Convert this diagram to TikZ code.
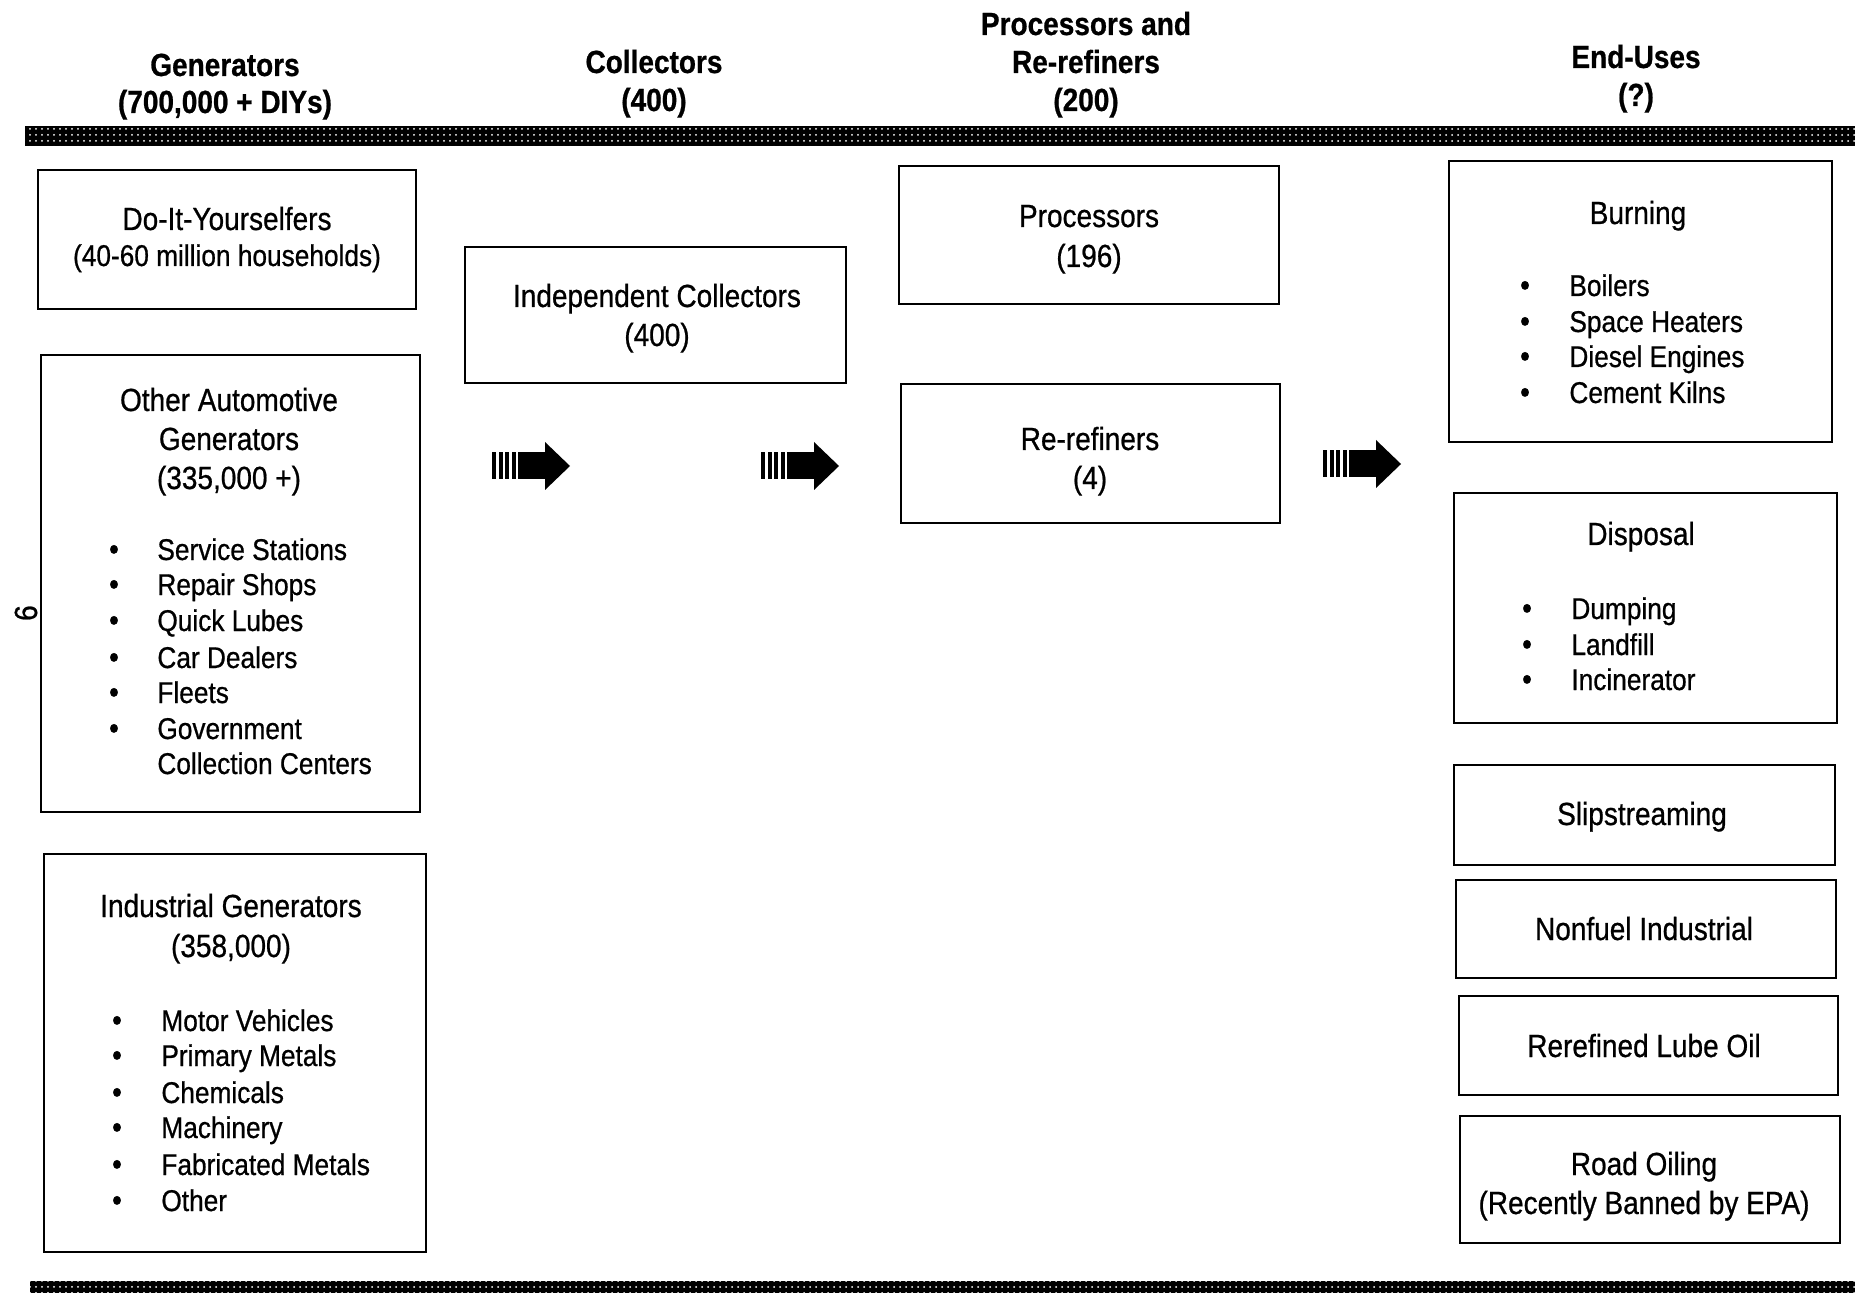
\documentclass[tikz,border=0pt]{standalone}
\usepackage{fontspec}
\setmainfont[FakeStretch=0.875, FakeBold=0.7]{Liberation Sans}
\usetikzlibrary{patterns}

\tikzset{
  box/.style={draw, line width=1.4pt, inner sep=0pt},
  hdr/.style={font=\fontsize{16}{19}\selectfont\bfseries, anchor=base, inner sep=0pt},
  txt/.style={font=\fontsize{16}{19}\selectfont, anchor=base, inner sep=0pt},
  small/.style={font=\fontsize{15}{18}\selectfont, anchor=base, inner sep=0pt},
  itm/.style={small, anchor=base west},
  band/.style={fill=black, draw=none},
  flowarrow/.pic={
    \foreach \i in {0,1,2,3} \fill ({\i*6.5},-13.5) rectangle ++(4,27);
    \fill (26,-13.5) rectangle (54,13.5);
    \fill (53,-24) -- (78,0) -- (53,24) -- cycle;
  },
}

% a framed box given by its corners (name, x1, y1, x2, y2)
\newcommand\flowbox[5]{%
  \node[box, minimum width={(#4-#2)*0.5pt}, minimum height={(#5-#3)*0.5pt}]
    (#1) at ({(#2+#4)/2},{(#3+#5)/2}) {};}

\begin{document}
\begin{tikzpicture}[x=0.5pt, y=-0.5pt]
\useasboundingbox (0,0) rectangle (1855,1293);

% column headings
\node[hdr] (h1a) at (225,76) {Generators};
\node[hdr] (h1b) at (225,113) {(700,000 + DIYs)};
\node[hdr] (h2a) at (654,73) {Collectors};
\node[hdr] (h2b) at (654,111) {(400)};
\node[hdr] (h3a) at (1086,35) {Processors and};
\node[hdr] (h3b) at (1086,73) {Re-refiners};
\node[hdr] (h3c) at (1086,111) {(200)};
\node[hdr] (h4a) at (1636,68) {End-Uses};
\node[hdr] (h4b) at (1636,106) {(?)};

% shaded rules
\fill[band] (25,126) rectangle (1855,146);
\fill[pattern=dots, pattern color=white] (25,126) rectangle (1855,146);
\fill[band] (30,1281) rectangle (1855,1293);
\fill[pattern=dots, pattern color=white] (30,1281) rectangle (1855,1293);

% page number
\node[txt, anchor=center, rotate=-90] (pg) at (26,613) {9};

% generators
\flowbox{diy}{38}{170}{416}{309}
\node[txt] (diy1) at (227,230) {Do-It-Yourselfers};
\node[small] (diy2) at (227,266) {(40-60 million households)};

\flowbox{auto}{41}{355}{420}{812}
\node[txt] (auto1) at (229,411) {Other Automotive};
\node[txt] (auto2) at (229,450) {Generators};
\node[txt] (auto3) at (229,489) {(335,000 +)};
\foreach \y/\t [count=\i] in {560/Service Stations, 595/Repair Shops, 631/Quick Lubes,
    668/Car Dealers, 703/Fleets, 739/Government} {
  \node[txt] (autob\i) at (114,\y) {\textbullet};
  \node[itm] (autoi\i) at (157,\y) {\t};
}
\node[itm] (autoi7) at (157,774) {Collection Centers};

\flowbox{ind}{44}{854}{426}{1252}
\node[txt] (ind1) at (231,917) {Industrial Generators};
\node[txt] (ind2) at (231,957) {(358,000)};
\foreach \y/\t [count=\i] in {1031/Motor Vehicles, 1066/Primary Metals, 1103/Chemicals,
    1138/Machinery, 1175/Fabricated Metals, 1211/Other} {
  \node[txt] (indb\i) at (117,\y) {\textbullet};
  \node[itm] (indi\i) at (161,\y) {\t};
}

% collectors
\flowbox{coll}{465}{247}{846}{383}
\node[txt] (coll1) at (657,307) {Independent Collectors};
\node[txt] (coll2) at (657,346) {(400)};

% processors and re-refiners
\flowbox{proc}{899}{166}{1279}{304}
\node[txt] (proc1) at (1089,227) {Processors};
\node[txt] (proc2) at (1089,267) {(196)};

\flowbox{rref}{901}{384}{1280}{523}
\node[txt] (rref1) at (1090,450) {Re-refiners};
\node[txt] (rref2) at (1090,489) {(4)};

% end-uses
\flowbox{burn}{1449}{161}{1832}{442}
\node[txt] (burn1) at (1638,224) {Burning};
\foreach \y/\t [count=\i] in {296/Boilers, 332/Space Heaters, 367/Diesel Engines, 403/Cement Kilns} {
  \node[txt] (burnb\i) at (1525,\y) {\textbullet};
  \node[itm] (burni\i) at (1569,\y) {\t};
}

\flowbox{disp}{1454}{493}{1837}{723}
\node[txt] (disp1) at (1641,545) {Disposal};
\foreach \y/\t [count=\i] in {619/Dumping, 655/Landfill, 690/Incinerator} {
  \node[txt] (dispb\i) at (1527,\y) {\textbullet};
  \node[itm] (dispi\i) at (1571,\y) {\t};
}

\flowbox{slip}{1454}{765}{1835}{865}
\node[txt] (slip1) at (1642,825) {Slipstreaming};

\flowbox{nonf}{1456}{880}{1836}{978}
\node[txt] (nonf1) at (1644,940) {Nonfuel Industrial};

\flowbox{lube}{1459}{996}{1838}{1095}
\node[txt] (lube1) at (1644,1057) {Rerefined Lube Oil};

\flowbox{road}{1460}{1116}{1840}{1243}
\node[txt] (road1) at (1644,1175) {Road Oiling};
\node[txt] (road2) at (1644,1214) {(Recently Banned by EPA)};

% flow arrows between the stages
\pic (arA) at (492,466) {flowarrow};
\pic (arB) at (761,466) {flowarrow};
\pic (arC) at (1323,464) {flowarrow};
\end{tikzpicture}
\end{document}
